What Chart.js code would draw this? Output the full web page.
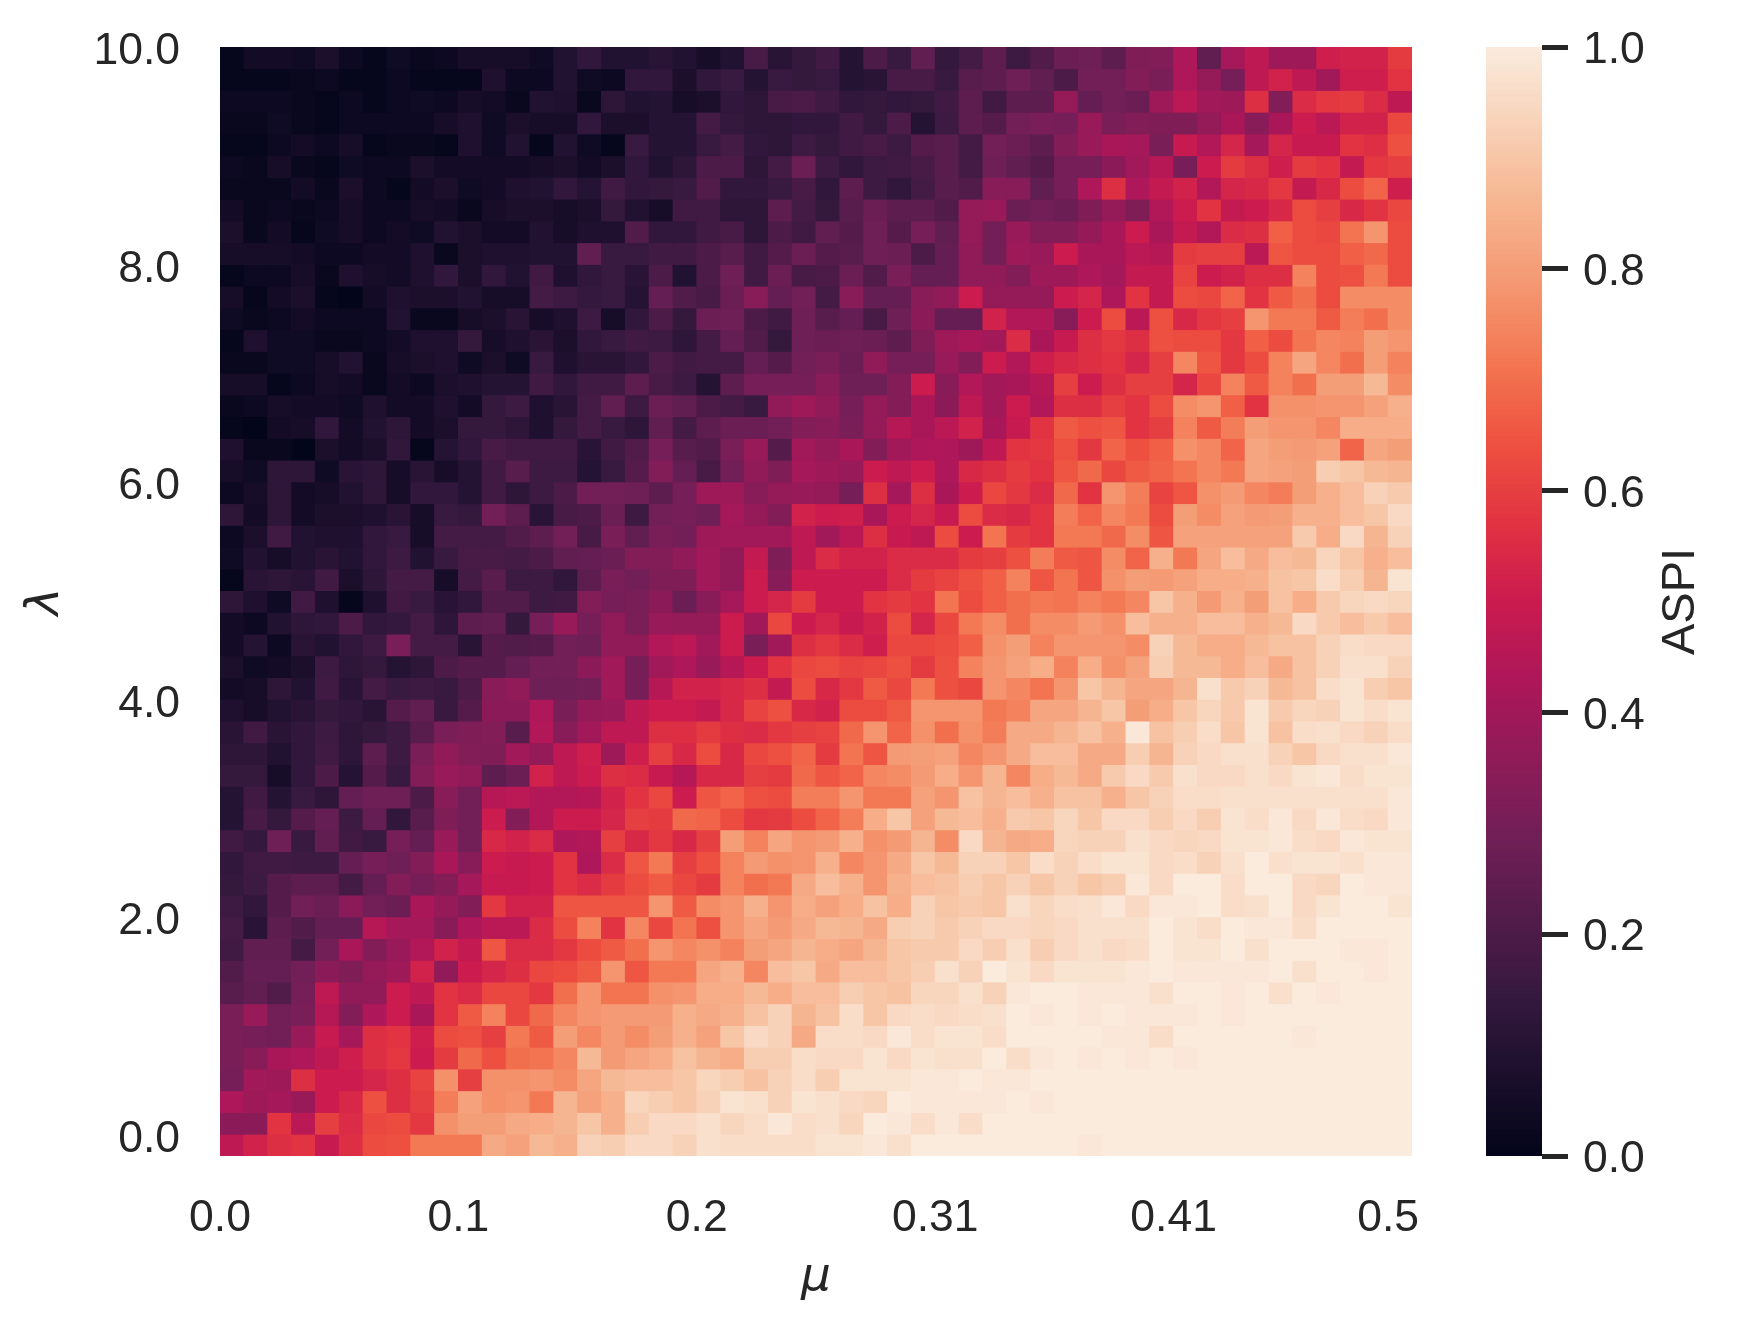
<!DOCTYPE html>
<html><head><meta charset="utf-8">
<style>html,body{margin:0;padding:0;background:#fff}#w{position:relative;width:1737px;height:1331px}canvas{position:absolute;left:0;top:0}</style>
<script src="https://cdn.jsdelivr.net/npm/chart.js@4"></script>
</head><body><div id="w"><canvas id="c1" width="1737" height="1331"></canvas><canvas id="c2" width="1737" height="1331"></canvas></div>
<script>
// ASPI x100, rows from lambda=10 (top) to lambda=0 (bottom), columns mu=0..0.5
const aspi=[
[1,5,5,4,7,3,1,4,2,3,6,6,6,4,9,13,9,9,11,9,6,9,19,11,14,17,10,20,15,25,14,18,24,16,21,27,28,24,32,33,43,25,41,47,39,39,51,52,52,59],
[1,1,1,2,3,1,1,3,1,1,1,8,3,3,9,4,3,13,13,7,13,15,10,15,14,15,10,11,19,19,15,23,24,28,25,20,29,29,33,31,43,37,30,47,52,47,40,51,51,57],
[3,3,3,2,1,3,1,3,4,3,6,5,2,9,8,2,12,9,10,6,7,13,12,19,20,17,13,14,13,14,17,24,17,24,24,37,26,29,27,39,46,40,39,56,33,55,58,59,55,47],
[2,2,4,2,1,3,3,3,3,6,8,4,7,6,6,13,7,7,10,10,18,14,12,12,13,13,17,14,20,10,16,24,22,29,31,30,38,31,33,32,32,37,42,34,42,50,46,52,52,62],
[1,1,3,5,3,6,1,2,2,1,8,4,9,1,9,4,1,15,10,10,15,18,13,12,16,14,17,19,16,22,23,18,29,27,24,33,38,42,41,31,49,44,53,41,53,49,49,57,56,64],
[3,2,6,2,1,4,3,3,7,5,5,5,5,6,7,5,7,13,9,12,20,20,12,18,27,16,13,16,17,19,23,18,28,25,22,30,30,35,40,45,30,50,59,56,51,59,57,48,58,60],
[2,2,2,5,2,7,3,1,5,7,4,5,8,9,13,10,17,13,14,15,21,13,13,15,19,13,24,16,13,18,23,21,34,34,25,30,43,56,43,48,52,44,53,54,58,48,54,63,68,51],
[5,2,3,2,3,6,3,3,6,5,2,6,7,7,6,7,14,9,6,17,17,12,12,24,18,14,23,27,24,24,21,37,38,27,29,27,32,37,32,44,50,57,48,50,54,63,60,54,57,62],
[7,2,5,1,4,6,3,5,4,9,7,5,5,9,6,8,8,21,13,13,17,19,12,20,17,25,22,28,22,30,25,37,29,38,33,33,37,42,50,42,48,44,55,56,67,63,62,71,78,63],
[6,6,6,5,3,3,5,5,8,2,7,8,8,9,9,25,15,15,17,17,20,23,17,22,27,22,23,28,27,20,26,36,29,39,38,50,42,42,46,45,59,60,60,46,65,63,63,67,69,63],
[1,3,3,6,2,8,6,5,8,13,7,13,9,17,8,13,15,11,20,9,20,28,17,27,19,20,27,21,31,26,26,36,36,33,39,39,43,41,48,48,61,50,52,56,56,74,63,64,72,63],
[6,1,5,7,1,0,5,8,7,7,9,6,6,18,16,14,15,10,26,21,19,27,34,26,29,18,34,26,26,34,36,50,37,37,37,50,53,43,57,48,63,62,68,57,66,70,63,76,76,76],
[4,2,3,5,3,3,3,9,2,2,6,7,11,6,8,16,6,13,20,14,27,28,20,17,28,23,26,19,28,35,26,26,52,44,44,34,50,63,46,64,54,58,60,78,72,72,66,73,70,76],
[1,8,4,4,2,2,3,5,8,8,14,6,8,11,7,13,15,17,16,12,18,26,21,14,28,27,28,27,24,32,39,42,40,55,42,49,56,58,56,64,63,63,58,67,63,71,75,74,80,78],
[2,2,4,4,6,9,2,6,7,8,4,7,4,15,8,11,11,13,20,17,18,18,26,22,29,31,27,36,30,30,38,33,50,44,51,54,56,57,53,60,75,65,58,63,74,82,75,70,80,74],
[6,6,1,3,6,5,2,5,3,7,8,10,10,17,13,17,17,24,19,16,10,24,30,30,30,34,28,28,33,50,34,44,40,42,45,60,50,56,60,60,53,62,74,66,74,70,80,80,87,76],
[2,3,6,5,5,4,8,5,5,8,5,14,16,8,11,18,25,16,27,25,20,18,15,36,39,36,30,37,33,42,35,47,40,50,44,56,56,60,57,63,76,78,67,57,77,77,78,78,81,85],
[1,0,5,6,13,5,9,12,5,7,14,14,12,8,14,18,15,12,25,18,24,27,27,29,33,34,31,37,45,42,46,52,42,49,57,66,64,65,57,60,74,66,73,80,78,78,75,84,84,84],
[8,2,2,0,7,5,7,13,1,10,13,19,17,17,17,11,17,21,30,23,21,31,38,22,40,37,42,33,40,43,43,39,47,57,58,64,58,68,64,67,77,75,68,82,80,79,81,68,82,80],
[6,4,12,12,4,11,12,6,11,6,10,17,23,16,16,10,15,22,33,26,19,29,36,32,41,39,38,50,47,50,43,54,56,59,57,65,69,62,66,68,71,75,72,82,81,80,92,90,87,86],
[3,6,12,5,6,9,12,6,13,13,10,17,12,16,20,29,29,28,24,30,39,39,34,37,38,37,30,56,41,56,42,50,62,58,55,69,57,78,73,61,65,77,79,75,73,80,85,88,93,91],
[12,5,12,5,7,7,8,11,6,15,14,29,24,11,19,20,27,16,29,30,28,41,37,33,52,50,51,42,50,53,49,63,55,54,57,73,68,75,72,63,80,76,81,79,80,85,85,88,90,95],
[3,7,17,9,8,8,13,15,6,18,18,18,21,24,29,19,31,25,31,29,39,40,40,40,47,40,46,56,49,47,63,50,71,59,57,72,72,69,76,65,81,81,81,81,81,91,84,95,86,93],
[4,9,6,9,11,9,13,16,9,15,19,19,18,20,25,26,27,33,33,36,40,36,48,32,47,55,52,52,55,55,55,59,60,64,73,66,65,76,68,85,72,82,88,83,88,87,94,90,85,88],
[1,11,12,11,17,7,12,18,18,6,18,23,16,16,13,24,31,29,32,32,40,36,50,34,50,50,50,50,55,59,61,64,67,74,65,71,65,77,80,79,81,84,84,85,89,90,96,92,86,98],
[12,8,4,17,8,1,8,17,15,11,13,21,21,16,17,33,30,31,35,27,34,41,50,53,59,50,50,57,59,57,71,63,67,70,72,71,74,72,75,90,85,79,85,80,89,84,91,94,95,94],
[5,3,9,12,13,20,13,14,18,12,24,25,14,30,38,30,36,31,38,37,37,50,40,62,50,53,49,52,63,53,62,72,76,70,76,76,79,77,88,85,85,88,88,85,87,95,91,88,91,88],
[5,10,3,11,9,13,16,31,18,18,11,22,21,22,29,28,36,36,44,46,40,50,31,40,56,58,55,51,62,62,63,67,77,80,74,78,78,78,76,93,87,84,84,87,89,89,93,96,95,95],
[7,4,5,7,16,12,14,10,12,20,22,22,26,29,29,35,40,30,40,43,38,45,50,57,62,63,61,62,64,59,64,74,78,81,84,74,84,77,81,92,87,87,84,88,83,89,93,97,97,93],
[5,6,12,9,17,11,18,15,16,15,20,34,36,28,28,29,40,30,45,52,52,54,56,48,63,54,58,66,62,72,64,62,78,75,71,78,90,86,82,82,86,97,91,93,87,89,96,98,92,90],
[8,6,9,11,14,13,11,22,25,15,22,35,35,43,31,37,38,47,50,50,48,54,61,64,54,52,63,63,66,78,78,78,72,74,82,82,86,90,80,84,90,94,91,98,91,94,93,98,96,98],
[11,17,11,13,16,12,14,16,23,31,32,33,23,44,34,40,47,47,56,56,59,56,55,58,60,61,69,78,68,77,70,77,73,83,83,86,89,85,99,89,92,96,90,98,89,96,97,95,93,96],
[12,12,9,13,17,12,24,16,31,36,33,32,40,37,47,51,39,51,60,54,63,54,62,64,68,59,71,65,79,80,81,75,78,83,88,88,83,83,92,86,93,95,97,97,93,90,95,97,97,99],
[14,14,6,13,20,10,22,15,33,38,36,24,27,52,47,50,56,55,49,45,54,54,60,59,69,65,68,75,76,79,84,78,86,75,84,87,83,91,95,91,97,95,95,97,95,98,99,96,98,98],
[10,17,10,15,12,26,28,28,20,34,29,45,46,44,44,45,52,57,62,50,65,68,64,63,73,73,78,72,72,81,78,89,86,88,85,89,89,85,90,93,96,96,97,97,97,97,97,97,97,99],
[10,19,14,22,26,16,26,13,23,32,29,50,33,44,50,50,53,60,59,69,68,63,58,59,63,68,73,84,90,81,87,88,85,91,90,94,90,95,95,92,95,92,98,96,99,95,99,96,95,99],
[17,14,28,15,25,17,15,30,26,38,29,54,52,55,43,44,60,54,58,54,60,80,74,82,78,79,85,77,79,86,76,95,86,83,84,94,93,93,97,95,94,95,98,98,99,96,95,99,98,98],
[13,17,17,16,16,26,30,28,33,42,34,50,49,50,57,43,55,65,72,60,64,74,79,77,78,85,75,78,83,90,87,93,93,90,96,93,96,98,98,95,96,93,97,100,97,98,98,97,99,99],
[14,16,22,24,24,18,26,33,30,33,41,49,49,50,57,55,59,63,66,62,59,74,70,72,83,88,85,78,85,88,89,92,90,93,90,93,90,92,99,95,100,100,96,100,100,95,94,100,99,99],
[16,13,22,29,27,35,29,27,42,37,33,58,52,52,65,65,65,65,78,66,76,78,85,78,84,81,84,89,84,93,90,91,90,97,94,96,97,99,95,99,99,100,96,97,100,95,98,100,100,98],
[18,11,24,21,26,26,45,41,41,34,43,46,46,55,63,74,57,75,62,71,64,78,82,79,83,87,86,83,92,93,91,93,95,95,94,95,97,97,97,100,98,96,100,99,99,96,100,100,100,100],
[17,25,25,18,29,42,33,38,44,52,48,65,55,55,58,63,66,70,78,75,77,74,80,82,86,84,82,86,90,91,91,95,92,97,92,95,97,95,96,100,98,98,100,97,100,100,100,99,99,100],
[21,26,26,29,35,32,37,39,52,36,50,53,56,62,63,66,78,65,72,72,82,85,75,88,90,83,88,88,90,92,97,93,100,98,95,98,98,98,99,100,99,99,99,99,100,97,100,100,99,100],
[23,25,21,30,47,36,36,50,47,57,55,62,62,58,70,78,71,71,77,78,84,84,87,84,88,88,92,90,89,94,94,97,93,99,100,100,99,99,99,97,100,100,99,100,97,100,99,100,100,100],
[31,38,29,31,45,33,43,50,42,57,66,74,62,69,75,78,79,79,79,85,83,85,89,93,86,89,96,90,95,96,95,96,97,100,99,100,99,100,99,99,99,100,99,100,100,100,100,100,100,100],
[31,30,29,38,49,41,56,57,51,63,64,60,72,66,80,75,79,76,80,85,81,90,95,93,83,96,96,95,99,96,98,98,96,100,100,100,100,99,99,96,100,100,100,100,100,99,100,100,100,100],
[31,34,42,43,47,51,56,58,50,59,69,64,70,71,75,87,79,82,84,89,86,84,92,92,96,95,95,98,95,98,97,97,100,96,99,100,99,100,99,100,99,100,100,100,100,100,100,100,100,100],
[30,40,39,56,50,50,53,56,61,77,60,77,77,78,76,82,87,88,88,90,94,92,89,93,96,92,98,98,98,99,99,100,99,99,100,100,100,100,100,100,100,100,100,100,100,100,100,100,100,100],
[43,39,41,38,50,54,64,56,60,73,81,77,78,72,86,81,85,94,92,90,93,98,97,93,98,97,95,94,100,99,99,99,99,100,99,100,100,100,100,100,100,100,100,100,100,100,100,100,100,100],
[35,35,57,46,60,55,62,63,58,77,80,80,83,84,86,90,85,92,95,95,97,94,96,99,96,97,94,100,99,96,99,96,100,100,100,100,100,100,100,100,100,100,100,100,100,100,100,100,100,100],
[47,52,56,57,49,56,63,64,72,72,72,83,81,87,85,93,92,95,95,93,97,96,96,96,96,98,98,99,97,100,100,100,100,100,100,100,99,100,100,100,100,100,100,100,100,100,100,100,100,100]
];
const xTickCells=[0,10,20,30,40,49];
const xTickLabels=['0.0','0.1','0.2','0.31','0.41','0.5'];
const yTickCells=[1,11,21,31,41,51];
const yTickLabels=['0.0','2.0','4.0','6.0','8.0','10.0'];
const cbarTicks=[0,0.2,0.4,0.6,0.8,1];
const stops=[[0,'#03051a'],[0.0714,'#1b0f2c'],[0.1429,'#35193e'],[0.2857,'#701f57'],[0.4286,'#ad1759'],[0.5,'#cb1b4f'],[0.5714,'#e13342'],[0.6429,'#ee5140'],[0.7143,'#f37651'],[0.7857,'#f49872'],[0.8571,'#f6b48f'],[0.93,'#f8d2b8'],[1,'#faebdd']];
function hex(h){return [1,3,5].map(i=>parseInt(h.substr(i,2),16));}
function rocket(v){
  v=Math.max(0,Math.min(1,v));
  for(let i=1;i<stops.length;i++){
    if(v<=stops[i][0]){
      const t=(v-stops[i-1][0])/(stops[i][0]-stops[i-1][0]);
      const a=hex(stops[i-1][1]),b=hex(stops[i][1]);
      return 'rgb('+a.map((c,k)=>Math.round(c+(b[k]-c)*t)).join(',')+')';
    }
  }
  return stops[stops.length-1][1];
}
const ink='#262626';
const tickFont={family:'"Liberation Sans",Arial,sans-serif',size:44.5};
const nCols=aspi[0].length,nRows=aspi.length;
const colLabels=aspi[0].map((_,i)=>String(i));
const rowSets=aspi.map((row,r)=>({
  data:row.map(()=>[nRows-1-r,nRows-r]),
  backgroundColor:row.map(v=>rocket(v/100)),
  borderWidth:0,grouped:false,barPercentage:1,categoryPercentage:1,inflateAmount:0.4
}));
new Chart(document.getElementById('c1'),{
  type:'bar',
  data:{labels:colLabels,datasets:rowSets},
  options:{
    responsive:false,animation:false,
    layout:{padding:{top:47,right:325,left:0,bottom:0}},
    plugins:{legend:{display:false},tooltip:{enabled:false}},
    scales:{
      x:{type:'category',display:false},
      y:{type:'linear',position:'left',min:0,max:nRows,
        grid:{display:false,drawTicks:false},border:{display:false},
        afterFit(s){s.width=220;s.paddingTop=0;s.paddingBottom=0;},
        afterBuildTicks(s){s.ticks=yTickCells.map(v=>({value:v}));},
        ticks:{color:ink,font:tickFont,padding:40,labelOffset:5,autoSkip:false,callback:(v)=>yTickLabels[yTickCells.indexOf(v)]},
        title:{display:true,text:'λ',color:ink,padding:{top:18,bottom:0},font:{family:'"DejaVu Sans"',style:'italic',size:47}}
      },
      x2:{type:'linear',axis:'x',position:'bottom',min:0,max:nCols,offset:false,
        grid:{display:false,drawTicks:false,offset:false},border:{display:false},
        afterFit(s){s.height=175;},
        afterBuildTicks(s){s.ticks=xTickCells.map(v=>({value:v}));},
        ticks:{color:ink,font:tickFont,padding:36,autoSkip:false,maxRotation:0,minRotation:0,callback:(v)=>xTickLabels[xTickCells.indexOf(v)]},
        title:{display:true,text:'μ',color:ink,padding:{top:0,bottom:25},font:{family:'"DejaVu Sans"',style:'italic',size:47}}
      }
    }
  }
});
const cbarSteps=256;
const cbarSets=[];
for(let i=0;i<cbarSteps;i++){
  cbarSets.push({data:[[i/cbarSteps,(i+1)/cbarSteps]],backgroundColor:rocket((i+0.5)/cbarSteps),borderWidth:0,grouped:false,barPercentage:1,categoryPercentage:1,inflateAmount:0.4});
}
const aspiLabel={id:'aspiLabel',afterDraw(c){
  const g=c.ctx;g.save();g.translate(1681,601.5);g.rotate(-Math.PI/2);
  g.font='47px "Liberation Sans",Arial,sans-serif';g.fillStyle=ink;g.textAlign='center';g.textBaseline='middle';
  g.fillText('ASPI',0,0);g.restore();
}};
new Chart(document.getElementById('c2'),{
  type:'bar',
  data:{labels:['ASPI'],datasets:cbarSets},
  plugins:[aspiLabel],
  options:{
    responsive:false,animation:false,
    layout:{padding:{top:47,left:1486,bottom:175,right:0}},
    plugins:{legend:{display:false},tooltip:{enabled:false}},
    scales:{
      x:{type:'category',display:false},
      y:{type:'linear',position:'right',min:0,max:1,
        grid:{display:true,drawOnChartArea:false,drawTicks:true,tickLength:26,tickWidth:5,tickColor:ink},border:{display:false},
        afterFit(s){s.width=195;s.paddingTop=0;s.paddingBottom=0;},
        afterBuildTicks(s){s.ticks=cbarTicks.map(v=>({value:v}));},
        ticks:{color:ink,font:tickFont,padding:15,labelOffset:4,autoSkip:false,callback:(v)=>v.toFixed(1)}
      }
    }
  }
});
</script></body></html>
